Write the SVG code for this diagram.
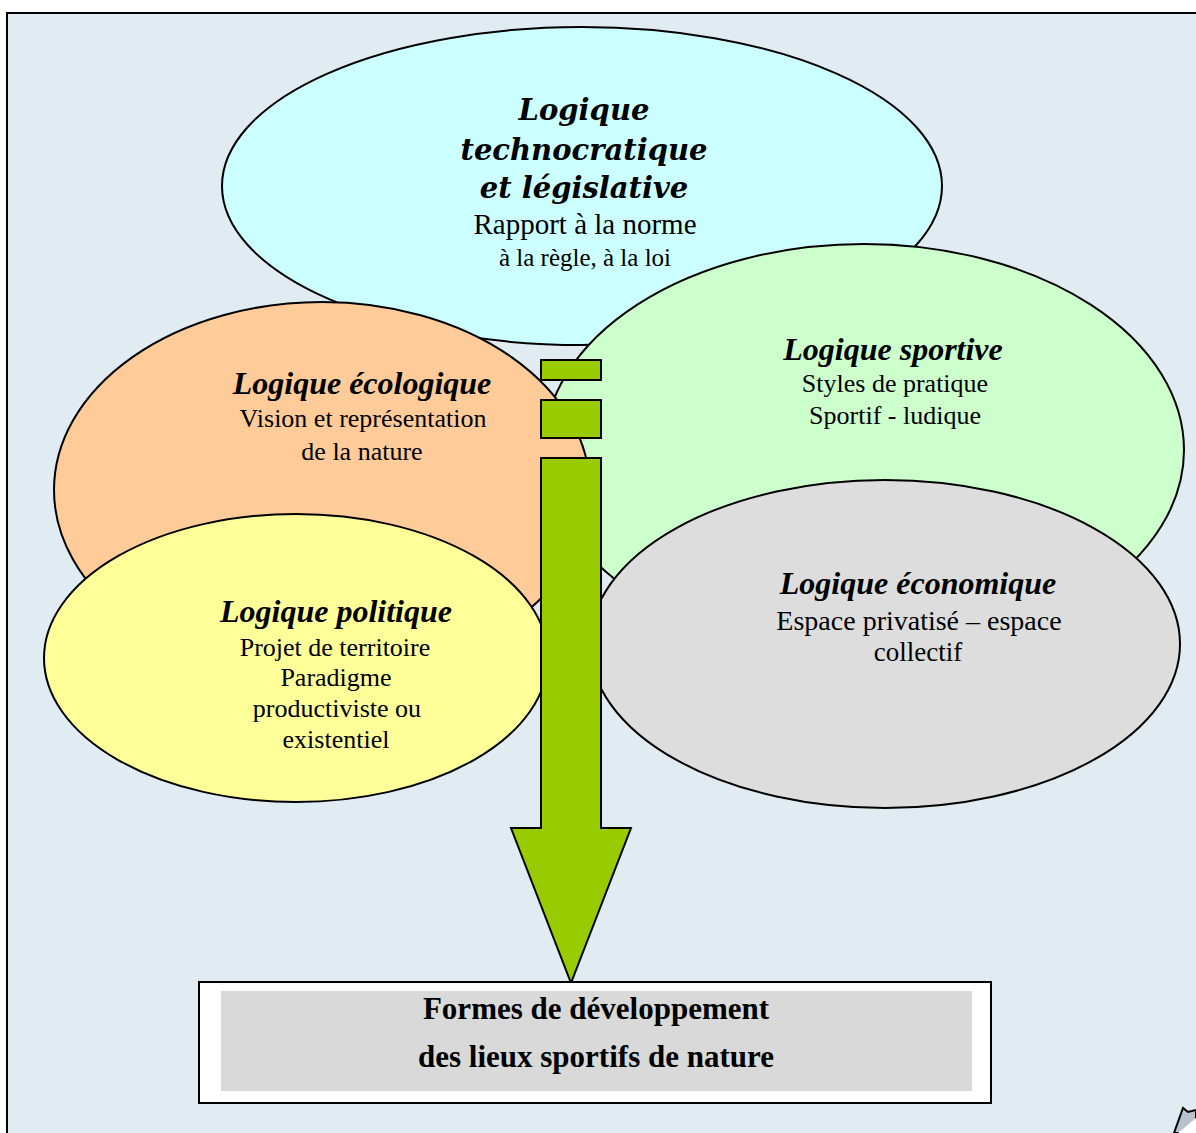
<svg xmlns="http://www.w3.org/2000/svg" width="1196" height="1133" viewBox="0 0 1196 1133">
<style>
.e{stroke:#000;stroke-width:2}
.t{font-family:"Liberation Serif","Times New Roman",serif;font-weight:bold;font-style:italic;font-size:32px;text-anchor:middle;fill:#000}
.tt{font-family:"DejaVu Serif",serif;font-weight:bold;font-style:italic;font-size:29px;text-anchor:middle;fill:#000}
.b{font-family:"Liberation Serif","Times New Roman",serif;font-size:26px;text-anchor:middle;fill:#000}
.f{font-family:"Liberation Serif","Times New Roman",serif;font-weight:bold;font-size:31px;text-anchor:middle;fill:#000}
.ar{fill:#99CC00;stroke:#000;stroke-width:2}
</style>
<rect x="0" y="0" width="1196" height="1133" fill="#fff"/>
<rect x="7" y="13" width="1200" height="1140" fill="#E1EBF2" stroke="#000" stroke-width="2"/>
<g id="technocratique">
<ellipse class="e" cx="582" cy="186" rx="360" ry="159" fill="#CCFFFF"/>
<text class="tt" x="584" y="120">Logique</text>
<text class="tt" x="584" y="160">technocratique</text>
<text class="tt" x="584" y="198">et législative</text>
<text class="b" x="585" y="234" style="font-size:29px">Rapport à la norme</text>
<text class="b" x="585" y="266" style="font-size:25px">à la règle, à la loi</text>
</g>
<g id="sportive">
<ellipse class="e" cx="864" cy="450" rx="320" ry="206" fill="#CCFFCC"/>
<text class="t" x="893" y="360">Logique sportive</text>
<text class="b" x="895" y="392">Styles de pratique</text>
<text class="b" x="895" y="424">Sportif - ludique</text>
</g>
<g id="ecologique">
<ellipse class="e" cx="322" cy="490" rx="268" ry="188" fill="#FFCC99"/>
<text class="t" x="362" y="394">Logique écologique</text>
<text class="b" x="363" y="427">Vision et représentation</text>
<text class="b" x="362" y="460">de la nature</text>
</g>
<g id="politique">
<ellipse class="e" cx="296" cy="658" rx="252" ry="144" fill="#FFFF99"/>
<text class="t" x="336" y="622">Logique politique</text>
<text class="b" x="335" y="656">Projet de territoire</text>
<text class="b" x="336" y="686">Paradigme</text>
<text class="b" x="337" y="717">productiviste ou</text>
<text class="b" x="336" y="748">existentiel</text>
</g>
<g id="economique">
<ellipse class="e" cx="885" cy="644" rx="295" ry="164" fill="#DDDDDD"/>
<text class="t" x="918" y="594">Logique économique</text>
<text class="b" x="919" y="630" style="font-size:28px">Espace privatisé – espace</text>
<text class="b" x="918" y="661" style="font-size:27px">collectif</text>
</g>
<g id="connectors">
<rect class="ar" x="541" y="360" width="60" height="20"/>
<rect class="ar" x="541" y="400" width="60" height="38"/>
<path class="ar" d="M541 458 H601 V828 H631 L571 983 L511 828 H541 Z"/>
</g>
<g id="formes">
<rect x="199" y="982" width="792" height="121" fill="#fff" stroke="#000" stroke-width="2"/>
<rect x="221" y="991" width="751" height="100" fill="#D9D9D9"/>
<text class="f" x="596" y="1019">Formes de développement</text>
<text class="f" x="596" y="1067">des lieux sportifs de nature</text>
</g>
<path d="M1174 1133 L1183 1108 L1188 1112 L1196 1110 L1196 1133 Z" fill="#B8C2CC" stroke="#000" stroke-width="2"/>
<path d="M1178 1133 L1196 1118 L1196 1133 Z" fill="#fff"/>
</svg>
